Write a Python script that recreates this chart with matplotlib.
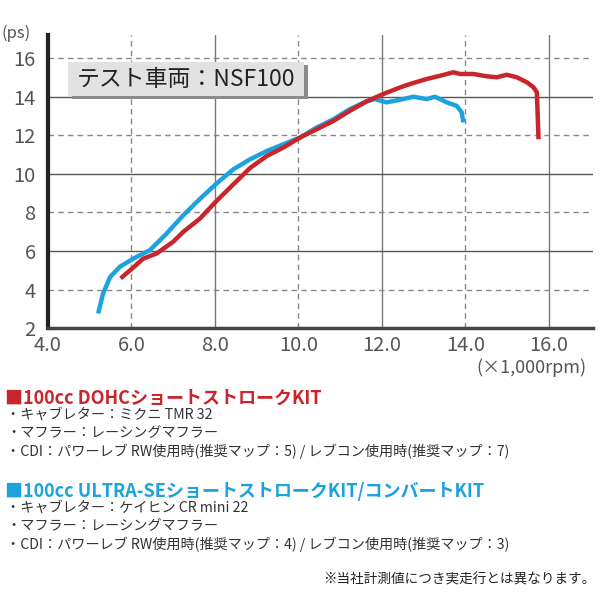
import matplotlib
matplotlib.use("Agg")
import matplotlib.pyplot as plt
from matplotlib.patches import Rectangle

plt.rcParams['font.family'] = ['Noto Sans CJK JP', 'DejaVu Sans']

# 100cc DOHC short stroke kit (red)
dohc_rpm = [5.74, 6.04, 6.28, 6.6, 7.0, 7.24, 7.64, 8.04, 8.44, 8.84, 9.24, 9.64,
            10.04, 10.44, 10.84, 11.23, 11.63, 12.03, 12.43, 12.67, 13.07, 13.47,
            13.71, 13.87, 14.19, 14.51, 14.75, 14.99, 15.23, 15.47, 15.63, 15.71, 15.75]
dohc_ps = [4.58, 5.14, 5.6, 5.87, 6.48, 6.99, 7.68, 8.6, 9.45, 10.3, 10.92, 11.36,
           11.88, 12.31, 12.74, 13.26, 13.75, 14.13, 14.47, 14.65, 14.91, 15.12,
           15.26, 15.17, 15.17, 15.05, 15.0, 15.13, 15.0, 14.74, 14.48, 14.22, 11.79]

# 100cc ULTRA-SE short stroke kit / convert kit (blue)
ultra_rpm = [5.2, 5.32, 5.49, 5.72, 6.04, 6.44, 6.84, 7.24, 7.64, 8.04, 8.44, 8.84,
             9.24, 9.64, 10.04, 10.44, 10.84, 11.23, 11.63, 11.83, 12.11, 12.43,
             12.75, 13.07, 13.27, 13.55, 13.79, 13.91, 13.95]
ultra_ps = [2.76, 3.8, 4.66, 5.18, 5.6, 6.04, 6.9, 7.85, 8.7, 9.5, 10.23, 10.75,
            11.18, 11.53, 11.88, 12.4, 12.83, 13.35, 13.75, 13.87, 13.7, 13.83,
            13.99, 13.87, 13.99, 13.7, 13.52, 13.18, 12.66]

x_ticks = [4, 6, 8, 10, 12, 14, 16]
y_ticks = [2, 4, 6, 8, 10, 12, 14, 16]

red = '#c9252c'
blue = '#1ca3de'
gray = '#555555'

fig = plt.figure(figsize=(6, 6), dpi=100)
ax = fig.add_axes([0.08, 0.453, 0.908, 0.489])
ax.set_xlim(4, 17.05)
ax.set_ylim(2, 17.2)

# grid: solid / dashed alternating
for v in x_ticks[1:]:
    if v % 4 == 0:
        ax.axvline(v, color='#777777', lw=1.0, ls='-', zorder=1)
    else:
        ax.axvline(v, color='#888888', lw=1.0, ls=(0, (4, 3)), zorder=1)
for v in y_ticks[1:]:
    if v % 4 == 2:
        ax.axhline(v, color='#555555', lw=1.0, ls='-', zorder=1)
    else:
        ax.axhline(v, color='#888888', lw=1.0, ls=(0, (4, 3)), zorder=1)

ax.plot(ultra_rpm, ultra_ps, color=blue, lw=3.2, solid_capstyle='butt', zorder=3)
ax.plot(dohc_rpm, dohc_ps, color=red, lw=3.2, solid_capstyle='butt', zorder=4)

for s in ['top', 'right']:
    ax.spines[s].set_visible(False)
ax.spines['left'].set_linewidth(3)
ax.spines['left'].set_color('#222222')
ax.spines['bottom'].set_linewidth(2.5)
ax.spines['bottom'].set_color('#444444')

ax.set_xticks(x_ticks)
ax.set_xticklabels([f"{v:.1f}" for v in x_ticks])
ax.set_yticks(y_ticks)
ax.set_yticklabels([str(v) for v in y_ticks])
ax.tick_params(length=0, labelsize=14.5, colors=gray, pad=5)
ax.tick_params(axis='y', pad=9)

fig.text(0.003, 0.945, '(ps)', fontsize=12, color=gray, ha='left', va='center')
fig.text(0.978, 0.387, '(×1,000rpm)', fontsize=13, color=gray, ha='right', va='center')

# vehicle label box with shadow
fig.patches.append(Rectangle((72 / 600, 1 - 99 / 600), 236 / 600, 34 / 600,
                             transform=fig.transFigure, facecolor='#8a8a8a',
                             edgecolor='none', zorder=5))
fig.patches.append(Rectangle((68 / 600, 1 - 96 / 600), 236 / 600, 34 / 600,
                             transform=fig.transFigure, facecolor='#e2e2e2',
                             edgecolor='none', zorder=6))
fig.text(186 / 600, 1 - 79 / 600, 'テスト車両：NSF100', fontsize=16.5, color='#222222',
         ha='center', va='center', zorder=7)

# spec notes
fig.text(0.008, 1 - 398 / 600, '■100cc DOHCショートストロークKIT', fontsize=13,
         fontweight='bold', color=red, ha='left', va='center')
dohc_notes = ['・キャブレター：ミクニ TMR 32',
              '・マフラー：レーシングマフラー',
              '・CDI：パワーレブ RW使用時(推奨マップ：5) / レブコン使用時(推奨マップ：7)']
for i, t in enumerate(dohc_notes):
    fig.text(0.01, 1 - (415 + 18 * i) / 600, t, fontsize=10.2, color='#333333',
             ha='left', va='center')

fig.text(0.008, 1 - 491 / 600, '■100cc ULTRA-SEショートストロークKIT/コンバートKIT',
         fontsize=13, fontweight='bold', color=blue, ha='left', va='center')
ultra_notes = ['・キャブレター：ケイヒン CR mini 22',
               '・マフラー：レーシングマフラー',
               '・CDI：パワーレブ RW使用時(推奨マップ：4) / レブコン使用時(推奨マップ：3)']
for i, t in enumerate(ultra_notes):
    fig.text(0.01, 1 - (508 + 18 * i) / 600, t, fontsize=10.2, color='#333333',
             ha='left', va='center')

fig.text(0.992, 1 - 580 / 600, '※当社計測値につき実走行とは異なります。', fontsize=9.8,
         color='#222222', ha='right', va='center')

fig.savefig('out.png', dpi=100)
